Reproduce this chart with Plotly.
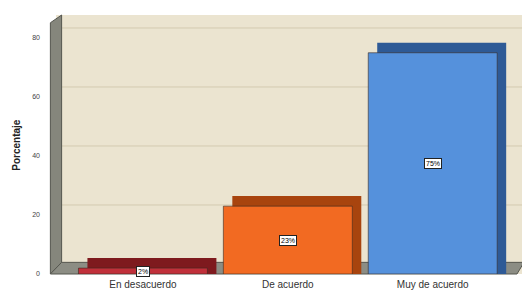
import plotly.graph_objects as go

categories = ["En desacuerdo", "De acuerdo", "Muy de acuerdo"]
values = [2, 23, 75]
labels = ["2%", "23%", "75%"]
front_colors = ["#C0303A", "#F26A22", "#5591DC"]
side_colors = ["#7E1A1E", "#A8440E", "#2E5A96"]
y_ticks = [0, 20, 40, 60, 80]

W = 0.89
DX = 0.062
DY = 3.4

fig = go.Figure()
# depth (back) faces
fig.add_trace(go.Bar(
    x=categories, y=[v + DY for v in values],
    width=W, offset=-W / 2 + DX,
    marker=dict(color=side_colors, line=dict(width=0)),
    hoverinfo="skip", showlegend=False))
# front faces
fig.add_trace(go.Bar(
    x=categories, y=values, width=W, offset=-W / 2,
    marker=dict(color=front_colors, line=dict(color="#3A2A20", width=0.6)),
    showlegend=False))

for c, v, t in zip(categories, values, labels):
    fig.add_annotation(x=c, y=v / 2, text=t, showarrow=False,
                       font=dict(size=7, color="#000000", family="Liberation Sans"),
                       bgcolor="#FFFFFF", bordercolor="#222222", borderwidth=1,
                       borderpad=1)

# back-wall gridlines (offset by depth)
for t in y_ticks[1:]:
    fig.add_shape(type="line", xref="paper", yref="y", x0=0.012, x1=1, y0=t + DY, y1=t + DY,
                  line=dict(color="#D3CAB0", width=1), layer="below")

# walls (decorative frame)
fig.add_shape(type="path", xref="paper", yref="paper",
              path="M -0.012 0 L -0.012 0.97 L 0.012 1 L 0.012 0.045 Z",
              fillcolor="#85867C", line=dict(color="#55564F", width=1), layer="below")
fig.add_shape(type="path", xref="paper", yref="paper",
              path="M -0.012 0 L 0.985 0 L 1.0 0.045 L 0.012 0.045 Z",
              fillcolor="#8C8D84", line=dict(color="#55564F", width=1), layer="below")

fig.add_annotation(xref="paper", yref="paper", x=-0.085, y=0.5, text="<b>Porcentaje</b>",
                   textangle=-90, showarrow=False, xanchor="center", yanchor="middle",
                   font=dict(size=10, color="#222222", family="Liberation Sans"))

# page body adds an 8px offset, so the figure is sized to the remaining area
fig.update_layout(
    width=522, height=284,
    margin=dict(l=48, r=6, t=7, b=18, autoexpand=False),
    paper_bgcolor="#FFFFFF",
    plot_bgcolor="#EBE4D0",
    barmode="overlay",
    font=dict(family="Liberation Sans", color="#222222"),
    xaxis=dict(range=[-0.60, 2.63], showgrid=False, zeroline=False,
               tickfont=dict(size=10, color="#333333"), ticks="", ticklabelstandoff=3,
               automargin=False),
    yaxis=dict(range=[0, 87.8], tickvals=y_ticks, ticktext=[str(v) for v in y_ticks],
               tickfont=dict(size=7, color="#444444"),
               showgrid=False, zeroline=False, ticks="", ticklabelstandoff=15,
               automargin=False),
)

fig.write_html("out.html")
